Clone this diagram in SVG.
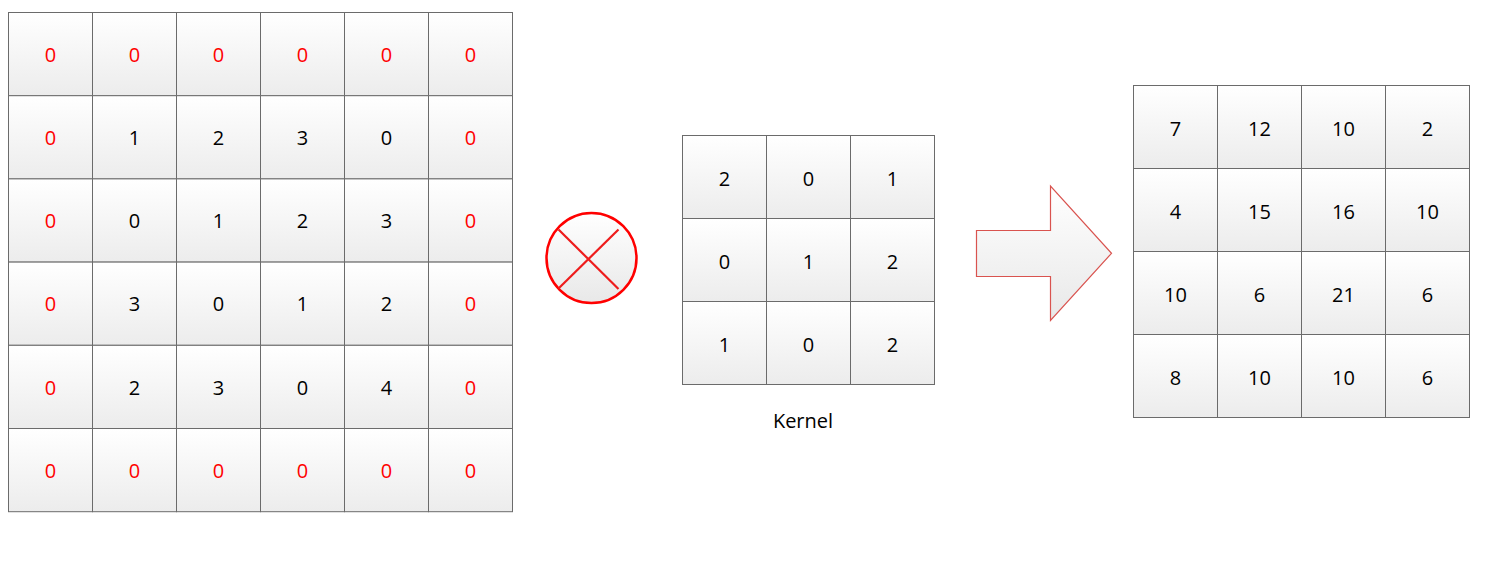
<svg xmlns="http://www.w3.org/2000/svg" width="1500" height="568" viewBox="0 0 1500 568">
<defs>
<linearGradient id="cg" x1="0" y1="0" x2="0" y2="1">
<stop offset="0" stop-color="#ffffff"/>
<stop offset="1" stop-color="#ececec"/>
</linearGradient>
<linearGradient id="og" x1="0" y1="0" x2="0" y2="1">
<stop offset="0" stop-color="#ffffff"/>
<stop offset="1" stop-color="#e8e8e8"/>
</linearGradient>
</defs>
<style>
.c{fill:url(#cg);stroke:#6b6b6b;stroke-width:1}
.t{font-family:"Open Sans","Noto Sans","Liberation Sans",sans-serif;font-size:20px;fill:#000;text-anchor:middle;dominant-baseline:central}
.r{fill:#ff0000}
</style>
<g id="input">
<rect class="c" x="8.5" y="12.5" width="84" height="83.2"/>
<rect class="c" x="92.5" y="12.5" width="84" height="83.2"/>
<rect class="c" x="176.5" y="12.5" width="84" height="83.2"/>
<rect class="c" x="260.5" y="12.5" width="84" height="83.2"/>
<rect class="c" x="344.5" y="12.5" width="84" height="83.2"/>
<rect class="c" x="428.5" y="12.5" width="84" height="83.2"/>
<rect class="c" x="8.5" y="95.7" width="84" height="83.2"/>
<rect class="c" x="92.5" y="95.7" width="84" height="83.2"/>
<rect class="c" x="176.5" y="95.7" width="84" height="83.2"/>
<rect class="c" x="260.5" y="95.7" width="84" height="83.2"/>
<rect class="c" x="344.5" y="95.7" width="84" height="83.2"/>
<rect class="c" x="428.5" y="95.7" width="84" height="83.2"/>
<rect class="c" x="8.5" y="178.9" width="84" height="83.2"/>
<rect class="c" x="92.5" y="178.9" width="84" height="83.2"/>
<rect class="c" x="176.5" y="178.9" width="84" height="83.2"/>
<rect class="c" x="260.5" y="178.9" width="84" height="83.2"/>
<rect class="c" x="344.5" y="178.9" width="84" height="83.2"/>
<rect class="c" x="428.5" y="178.9" width="84" height="83.2"/>
<rect class="c" x="8.5" y="262.1" width="84" height="83.2"/>
<rect class="c" x="92.5" y="262.1" width="84" height="83.2"/>
<rect class="c" x="176.5" y="262.1" width="84" height="83.2"/>
<rect class="c" x="260.5" y="262.1" width="84" height="83.2"/>
<rect class="c" x="344.5" y="262.1" width="84" height="83.2"/>
<rect class="c" x="428.5" y="262.1" width="84" height="83.2"/>
<rect class="c" x="8.5" y="345.3" width="84" height="83.2"/>
<rect class="c" x="92.5" y="345.3" width="84" height="83.2"/>
<rect class="c" x="176.5" y="345.3" width="84" height="83.2"/>
<rect class="c" x="260.5" y="345.3" width="84" height="83.2"/>
<rect class="c" x="344.5" y="345.3" width="84" height="83.2"/>
<rect class="c" x="428.5" y="345.3" width="84" height="83.2"/>
<rect class="c" x="8.5" y="428.5" width="84" height="83.2"/>
<rect class="c" x="92.5" y="428.5" width="84" height="83.2"/>
<rect class="c" x="176.5" y="428.5" width="84" height="83.2"/>
<rect class="c" x="260.5" y="428.5" width="84" height="83.2"/>
<rect class="c" x="344.5" y="428.5" width="84" height="83.2"/>
<rect class="c" x="428.5" y="428.5" width="84" height="83.2"/>
<text class="t r" x="50.5" y="54">0</text>
<text class="t r" x="134.5" y="54">0</text>
<text class="t r" x="218.5" y="54">0</text>
<text class="t r" x="302.5" y="54">0</text>
<text class="t r" x="386.5" y="54">0</text>
<text class="t r" x="470.5" y="54">0</text>
<text class="t r" x="50.5" y="137.5">0</text>
<text class="t" x="134.5" y="137.5">1</text>
<text class="t" x="218.5" y="137.5">2</text>
<text class="t" x="302.5" y="137.5">3</text>
<text class="t" x="386.5" y="137.5">0</text>
<text class="t r" x="470.5" y="137.5">0</text>
<text class="t r" x="50.5" y="220.7">0</text>
<text class="t" x="134.5" y="220.7">0</text>
<text class="t" x="218.5" y="220.7">1</text>
<text class="t" x="302.5" y="220.7">2</text>
<text class="t" x="386.5" y="220.7">3</text>
<text class="t r" x="470.5" y="220.7">0</text>
<text class="t r" x="50.5" y="303.9">0</text>
<text class="t" x="134.5" y="303.9">3</text>
<text class="t" x="218.5" y="303.9">0</text>
<text class="t" x="302.5" y="303.9">1</text>
<text class="t" x="386.5" y="303.9">2</text>
<text class="t r" x="470.5" y="303.9">0</text>
<text class="t r" x="50.5" y="387.1">0</text>
<text class="t" x="134.5" y="387.1">2</text>
<text class="t" x="218.5" y="387.1">3</text>
<text class="t" x="302.5" y="387.1">0</text>
<text class="t" x="386.5" y="387.1">4</text>
<text class="t r" x="470.5" y="387.1">0</text>
<text class="t r" x="50.5" y="470.3">0</text>
<text class="t r" x="134.5" y="470.3">0</text>
<text class="t r" x="218.5" y="470.3">0</text>
<text class="t r" x="302.5" y="470.3">0</text>
<text class="t r" x="386.5" y="470.3">0</text>
<text class="t r" x="470.5" y="470.3">0</text>
</g>
<g id="multiply">
<circle cx="591.5" cy="258" r="45" fill="url(#og)" stroke="#ff0000" stroke-width="2.5"/>
<line x1="558.5" y1="229.5" x2="618.5" y2="289" stroke="#ee1c1c" stroke-width="2.2"/>
<line x1="618.5" y1="229.5" x2="558.5" y2="288.5" stroke="#ee1c1c" stroke-width="2.2"/>
</g>
<g id="kernel">
<rect class="c" x="682.5" y="135.5" width="84" height="83"/>
<rect class="c" x="766.5" y="135.5" width="84" height="83"/>
<rect class="c" x="850.5" y="135.5" width="84" height="83"/>
<rect class="c" x="682.5" y="218.5" width="84" height="83"/>
<rect class="c" x="766.5" y="218.5" width="84" height="83"/>
<rect class="c" x="850.5" y="218.5" width="84" height="83"/>
<rect class="c" x="682.5" y="301.5" width="84" height="83"/>
<rect class="c" x="766.5" y="301.5" width="84" height="83"/>
<rect class="c" x="850.5" y="301.5" width="84" height="83"/>
<text class="t" x="724.5" y="178">2</text>
<text class="t" x="808.5" y="178">0</text>
<text class="t" x="892.5" y="178">1</text>
<text class="t" x="724.5" y="261">0</text>
<text class="t" x="808.5" y="261">1</text>
<text class="t" x="892.5" y="261">2</text>
<text class="t" x="724.5" y="344">1</text>
<text class="t" x="808.5" y="344">0</text>
<text class="t" x="892.5" y="344">2</text>
<text class="t" x="803" y="420">Kernel</text>
</g>
<g id="arrow">
<polygon points="976.5,230.5 1050.5,230.5 1050.5,186 1111.5,253.3 1050.5,320.5 1050.5,276.5 976.5,276.5" fill="url(#og)" stroke="#d9534f" stroke-width="1.2"/>
</g>
<g id="output">
<rect class="c" x="1133.5" y="85.5" width="84" height="83"/>
<rect class="c" x="1217.5" y="85.5" width="84" height="83"/>
<rect class="c" x="1301.5" y="85.5" width="84" height="83"/>
<rect class="c" x="1385.5" y="85.5" width="84" height="83"/>
<rect class="c" x="1133.5" y="168.5" width="84" height="83"/>
<rect class="c" x="1217.5" y="168.5" width="84" height="83"/>
<rect class="c" x="1301.5" y="168.5" width="84" height="83"/>
<rect class="c" x="1385.5" y="168.5" width="84" height="83"/>
<rect class="c" x="1133.5" y="251.5" width="84" height="83"/>
<rect class="c" x="1217.5" y="251.5" width="84" height="83"/>
<rect class="c" x="1301.5" y="251.5" width="84" height="83"/>
<rect class="c" x="1385.5" y="251.5" width="84" height="83"/>
<rect class="c" x="1133.5" y="334.5" width="84" height="83"/>
<rect class="c" x="1217.5" y="334.5" width="84" height="83"/>
<rect class="c" x="1301.5" y="334.5" width="84" height="83"/>
<rect class="c" x="1385.5" y="334.5" width="84" height="83"/>
<text class="t" x="1175.5" y="128">7</text>
<text class="t" x="1259.5" y="128">12</text>
<text class="t" x="1343.5" y="128">10</text>
<text class="t" x="1427.5" y="128">2</text>
<text class="t" x="1175.5" y="211">4</text>
<text class="t" x="1259.5" y="211">15</text>
<text class="t" x="1343.5" y="211">16</text>
<text class="t" x="1427.5" y="211">10</text>
<text class="t" x="1175.5" y="294">10</text>
<text class="t" x="1259.5" y="294">6</text>
<text class="t" x="1343.5" y="294">21</text>
<text class="t" x="1427.5" y="294">6</text>
<text class="t" x="1175.5" y="377">8</text>
<text class="t" x="1259.5" y="377">10</text>
<text class="t" x="1343.5" y="377">10</text>
<text class="t" x="1427.5" y="377">6</text>
</g>
</svg>
